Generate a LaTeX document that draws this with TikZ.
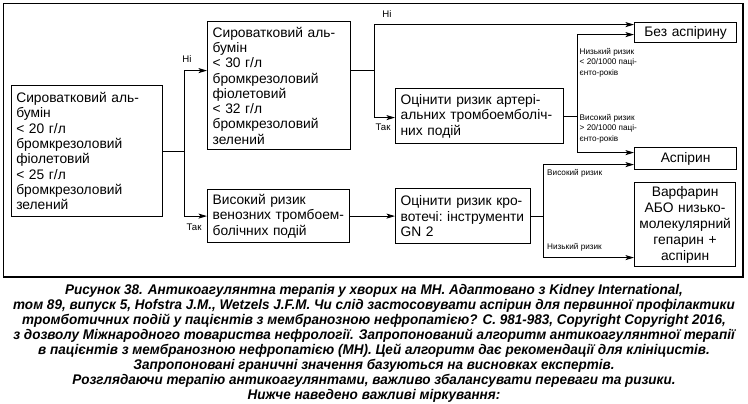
\documentclass[tikz,border=0pt]{standalone}
\usepackage{fontspec}
\setmainfont{Liberation Sans}
\newfontfamily\capfont[FakeStretch=0.965]{Liberation Sans}
\usetikzlibrary{arrows.meta}
\tikzset{
  boxtext/.style={font=\fontsize{13.8}{15.3}\selectfont},
  bx/.style={draw, line width=1.2pt, boxtext, inner xsep=5pt, inner ysep=0pt, anchor=north west, align=left},
  cbx/.style={draw, line width=1.2pt, boxtext, inner xsep=2pt, inner ysep=0pt, anchor=north west, align=center},
  ln/.style={line width=0.9pt},
  arr/.style={line width=0.9pt, -{Stealth[length=8.5pt,width=5pt,inset=2pt]}},
  yn/.style={font=\fontsize{9.6}{11}\selectfont, inner sep=0pt},
  lbl/.style={font=\fontsize{8.2}{10.2}\selectfont, inner sep=0pt, anchor=north west, align=left},
  captxt/.style={font=\capfont\bfseries\itshape\fontsize{14}{15}\selectfont, inner sep=0pt, align=center, anchor=north}
}
\begin{document}
\begin{tikzpicture}[x=1pt,y=-1pt]
\useasboundingbox (0,0) rectangle (748,404);
\fill[white] (0,0) rectangle (748,404);
\draw[line width=1.3pt] (3.5,3.5) rectangle (743,277);

\node[bx, minimum width=151.3pt, minimum height=131pt, text width=141.3pt] (b1) at (10.7,85)
 {Сироватковий~аль-\\бумін\\<~20~г/л\\бромкрезоловий\\фіолетовий\\<~25~г/л\\бромкрезоловий\\зелений};
\node[bx, minimum width=143pt, minimum height=128pt, text width=133pt] (b2) at (207,21)
 {Сироватковий~аль-\\бумін\\<~30~г/л\\бромкрезоловий\\фіолетовий\\<~32~г/л\\бромкрезоловий\\зелений};
\node[bx, minimum width=142pt, minimum height=53pt, text width=132pt] (b3) at (207,189)
 {Високий~ризик\\венозних~тромбоем-\\болічних~подій};
\node[bx, minimum width=168pt, minimum height=55pt, text width=158pt] (b4) at (395,88)
 {Оцінити~ризик~артері-\\альних~тромбоемболіч-\\них~подій};
\node[bx, minimum width=135pt, minimum height=55pt, text width=125pt] (b5) at (395,188)
 {Оцінити~ризик~кро-\\вотечі:~інструменти\\GN~2};
\node[cbx, minimum width=102pt, minimum height=20pt, text width=98pt] (nab) at (634,22) {Без~аспірину};
\node[cbx, minimum width=102pt, minimum height=22pt, text width=98pt] (asp) at (634,147) {Аспірин};
\node[cbx, minimum width=101pt, minimum height=84pt, text width=97pt, font=\fontsize{13.8}{16}\selectfont] (warf) at (634,182)
 {Варфарин\\АБО~низько-\\молекулярний\\гепарин~+\\аспірин};

\coordinate (j1) at (184,0);
\coordinate (j2) at (374,0);
\coordinate (j3) at (577,0);
\coordinate (j4) at (543,0);

\draw[ln] (b1.east) -- (b1.east -| j1);
\draw[arr] (b1.east -| j1) |- ([yshift=15pt]b2.west);
\draw[arr] (b1.east -| j1) |- (b3.west);

\draw[ln] ([yshift=15pt]b2.east) -- ([yshift=15pt]b2.east -| j2);
\draw[arr] ([yshift=15pt]b2.east -| j2) |- ([yshift=8pt]nab.west);
\draw[arr] ([yshift=15pt]b2.east -| j2) |- ([yshift=-1.5pt]b4.west);

\draw[ln] (b4.east) -- (b4.east -| j3);
\draw[arr] (b4.east -| j3) |- ([yshift=-2pt]nab.west);
\draw[arr] (b4.east -| j3) |- ([yshift=6pt]asp.west);

\draw[arr] (b3.east) -- (b5.west);

\draw[ln] (b5.east) -- (b5.east -| j4);
\draw[arr] (b5.east -| j4) |- ([yshift=-6pt]asp.west);
\draw[arr] (b5.east -| j4) |- ([yshift=-33pt]warf.west);

\node[yn] (n1) at (187,59) {Ні};
\node[yn] (t1) at (194,227) {Так};
\node[yn] (n2) at (387,14) {Ні};
\node[yn] (t2) at (383,127.5) {Так};

\node[lbl] (l1) at (579.5,48.5) {Низький ризик\\< 20/1000 паці-\\єнто-років};
\node[lbl] (l2) at (579.5,114.5) {Високий ризик\\> 20/1000 паці-\\єнто-років};
\node[lbl] (l3) at (547,169.5) {Високий ризик};
\node[lbl] (l4) at (547,243.5) {Низький ризик};

\node[captxt] (cap) at (374,284) {Рисунок 38. Антикоагулянтна терапія у хворих на МН. Адаптовано з Kidney International,\\
том 89, випуск 5, Hofstra J.M., Wetzels J.F.M. Чи слід застосовувати аспірин для первинної профілактики\\
тромботичних подій у пацієнтів з мембранозною нефропатією? С. 981-983, Copyright Copyright 2016,\\
з дозволу Міжнародного товариства нефрології. Запропонований алгоритм антикоагулянтної терапії\\
в пацієнтів з мембранозною нефропатією (МН). Цей алгоритм дає рекомендації для клініцистів.\\
Запропоновані граничні значення базуються на висновках експертів.\\
Розглядаючи терапію антикоагулянтами, важливо збалансувати переваги та ризики.\\
Нижче наведено важливі міркування:};
\end{tikzpicture}
\end{document}
